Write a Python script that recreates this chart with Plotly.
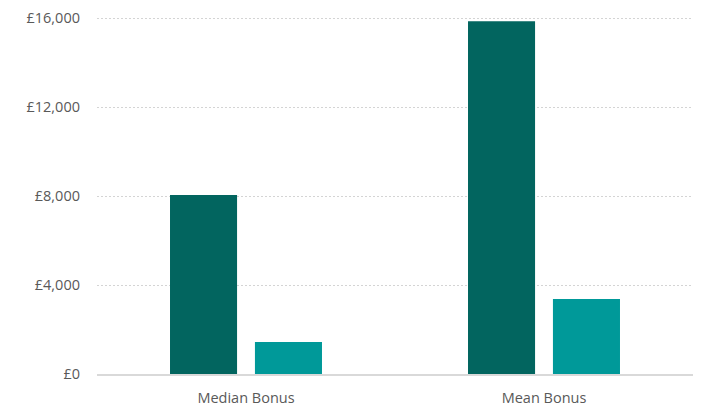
import plotly.graph_objects as go

categories = ["Median Bonus", "Mean Bonus"]
series_a = [8050, 15860]
series_b = [1440, 3370]
tick_vals = [0, 4000, 8000, 12000, 16000]
tick_text = ["£0", "£4,000", "£8,000", "£12,000", "£16,000"]

fig = go.Figure()
fig.add_trace(go.Bar(x=categories, y=series_a, marker=dict(color="#02655F", line=dict(width=0)),
                     width=0.225, offset=-0.255, name="A"))
fig.add_trace(go.Bar(x=categories, y=series_b, marker=dict(color="#009999", line=dict(width=0)),
                     width=0.225, offset=0.03, name="B"))

fig.update_layout(
    width=703, height=406,
    margin=dict(l=97, r=10, t=16, b=32),
    paper_bgcolor="white", plot_bgcolor="white",
    barmode="overlay",
    showlegend=False,
    font=dict(family="Open Sans", size=13, color="#595959"),
)
fig.update_xaxes(showline=True, linecolor="#D9D9D9", linewidth=1.5, ticks="", showgrid=False,
                 automargin=False, ticklabelstandoff=10, tickfont=dict(size=14.5, color="#595959"))
fig.update_yaxes(range=[0, 16100], tickvals=tick_vals, ticktext=tick_text,
                 showgrid=True, gridcolor="#D4D4D4", griddash="2px,2px", gridwidth=1.3,
                 automargin=False, zeroline=False, showline=False, ticks="", ticklabelstandoff=16,
                 tickfont=dict(size=14.5, color="#595959"))

fig.write_html("out.html")
